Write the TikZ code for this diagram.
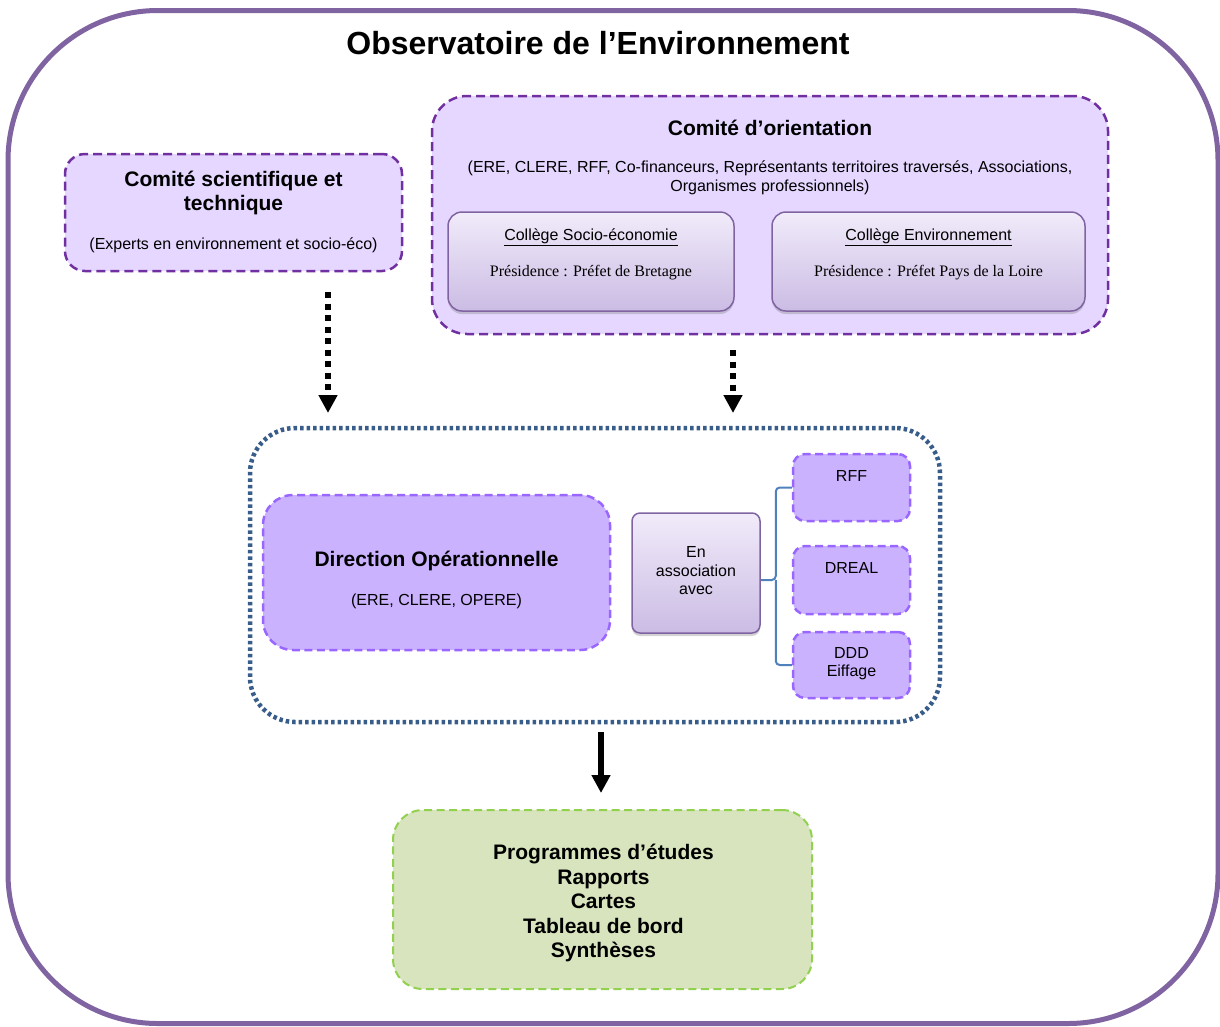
\documentclass[tikz,border=0pt]{standalone}
\usepackage{fontspec}
\setmainfont{Liberation Sans}
\newfontfamily\presfont{Liberation Serif}
\usepackage{tikz}
\usetikzlibrary{arrows.meta,shapes,positioning,shadows}
\usepackage{xcolor}
\definecolor{obsviolet}{RGB}{128,100,162}
\definecolor{comfill}{RGB}{229,215,255}
\definecolor{comedge}{RGB}{112,48,160}
\definecolor{dirfill}{RGB}{203,178,255}
\definecolor{diredge}{RGB}{153,102,255}
\definecolor{colltop}{RGB}{241,235,250}
\definecolor{collbot}{RGB}{203,188,228}
\definecolor{opblue}{RGB}{56,93,138}
\definecolor{accblue}{RGB}{79,129,189}
\definecolor{prodfill}{RGB}{215,228,189}
\definecolor{prodedge}{RGB}{146,208,80}
\tikzstyle{comite} = [draw=comedge, fill=comfill, line width=2.5pt, dash pattern=on 9pt off 5pt, inner sep=0pt]
\tikzstyle{college} = [draw=obsviolet, line width=1.5pt, top color=colltop, bottom color=collbot, inner sep=0pt, drop shadow={shadow xshift=0pt, shadow yshift=-3pt, opacity=0.35}]
\tikzstyle{direction} = [draw=diredge, fill=dirfill, line width=2.5pt, dash pattern=on 8pt off 4.5pt, inner sep=0pt]
\tikzstyle{dotarrow} = [line width=6pt, dash pattern=on 6pt off 5.5pt, -{Triangle[length=18pt, width=18pt]}]
\tikzstyle{mainarrow} = [line width=6pt, -{Triangle[length=18pt, width=18pt]}]
\tikzstyle{accolade} = [draw=accblue, line width=2pt, rounded corners=4pt]
\tikzstyle{grand} = [font=\fontsize{21}{24.5}\selectfont\bfseries, align=center]
\tikzstyle{petit} = [font=\fontsize{16}{19}\selectfont, align=center]
\tikzstyle{moyen} = [font=\fontsize{16}{18.5}\selectfont, align=center]
\tikzstyle{pres} = [font=\fontsize{16}{19}\selectfont\presfont]

\begin{document}
\begin{tikzpicture}[x=1pt, y=-1pt]
\useasboundingbox (0,0) rectangle (1220,1026);

% Outer frame and title
\node (obs) [draw=obsviolet, line width=5pt, rounded corners=150pt, minimum width=1210pt, minimum height=1013pt] at (613,517) {};
\node (title) [font=\fontsize{32}{36}\selectfont\bfseries] at (598,43) {Observatoire de l’Environnement};

% Comite scientifique
\node (sci) [comite, rounded corners=20pt, minimum width=337pt, minimum height=117pt] at (233.5,212.5) {};
\node (scititle) [grand] at (233.5,193) {Comité scientifique et\\ technique};
\node (scisub) [petit] at (233.5,245) {(Experts en environnement et socio-éco)};

% Comite d'orientation
\node (ori) [comite, rounded corners=35pt, minimum width=676pt, minimum height=238pt] at (770,215) {};
\node (orititle) [grand] at (770,128) {Comité d’orientation};
\node (orisub) [petit] at (770,177.5) {(ERE, CLERE, RFF, Co-financeurs, Représentants territoires traversés, Associations,\\ Organismes professionnels)};

% Colleges
\node (socio) [college, rounded corners=14pt, minimum width=286pt, minimum height=99pt] at (591,261.5) {};
\node (sociotitle) [moyen] at (591,237) {\underline{Collège Socio-économie}};
\node (sociopres) [pres] at (591,273) {Présidence : Préfet de Bretagne};
\node (envi) [college, rounded corners=14pt, minimum width=313pt, minimum height=99pt] at (928.5,261.5) {};
\node (envititle) [moyen] at (928.5,237) {\underline{Collège Environnement}};
\node (envipres) [pres] at (928.5,273) {Présidence : Préfet Pays de la Loire};

% Dotted arrows
\coordinate (sciout) at (328,292);
\coordinate (sciin) at (328,413);
\coordinate (oriout) at (733,350);
\coordinate (oriin) at (733,413);
\draw[dotarrow] (sciout) -- (sciin);
\draw[dotarrow] (oriout) -- (oriin);

% Operational frame
\node (ope) [draw=opblue, line width=4.5pt, dash pattern=on 3.5pt off 3pt, rounded corners=45pt, minimum width=690pt, minimum height=294pt] at (595,575) {};
\node (dir) [direction, rounded corners=30pt, minimum width=347pt, minimum height=155pt] at (436.5,572.5) {};
\node (dirtitle) [grand] at (436.5,561) {Direction Opérationnelle};
\node (dirsub) [petit] at (436.5,601) {(ERE, CLERE, OPERE)};

\node (assoc) [college, rounded corners=8pt, minimum width=128pt, minimum height=120pt] at (696,573) {};
\node (assoctext) [moyen] at (696,571) {En\\ association\\ avec};

% Partners
\node (rff) [direction, rounded corners=12pt, minimum width=117pt, minimum height=67pt] at (851.5,487.5) {};
\node (rfftext) [moyen] at (851.5,476) {RFF};
\node (dreal) [direction, rounded corners=12pt, minimum width=117pt, minimum height=68pt] at (851.5,580) {};
\node (drealtext) [moyen] at (851.5,568) {DREAL};
\node (ddd) [direction, rounded corners=12pt, minimum width=117pt, minimum height=66pt] at (851.5,665) {};
\node (dddtext) [moyen] at (851.5,663.5) {DDD\\ Eiffage};

\draw[accolade] (rff.west) -| ([xshift=-16pt]dreal.west) -- (assoc.east |- dreal.west);
\draw[accolade] (ddd.west) -| ([xshift=-16pt]dreal.west);

% Outputs
\coordinate (opeout) at (601,732);
\coordinate (prodin) at (601,793);
\draw[mainarrow] (opeout) -- (prodin);
\node (prod) [draw=prodedge, fill=prodfill, line width=2pt, dash pattern=on 8pt off 4.5pt, rounded corners=30pt, minimum width=419pt, minimum height=179pt] at (602.5,899.5) {};
\node (prodtext) [grand] at (603.5,903) {Programmes d’études\\ Rapports\\ Cartes\\ Tableau de bord\\ Synthèses};
\end{tikzpicture}
\end{document}
